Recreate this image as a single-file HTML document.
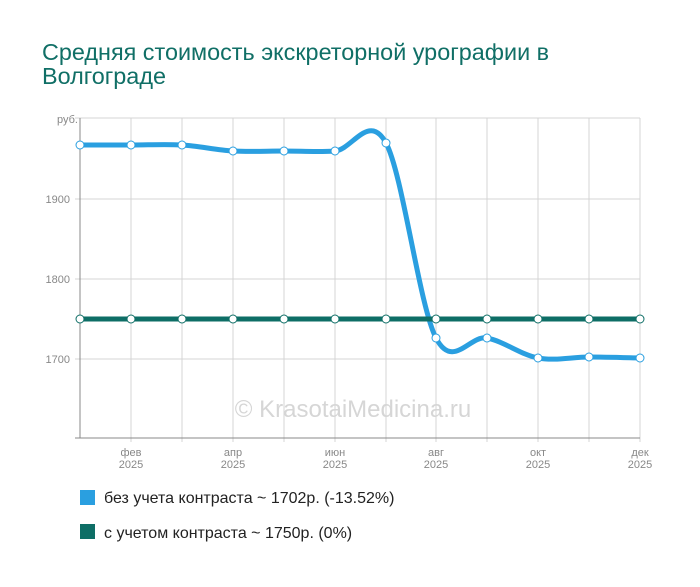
<!DOCTYPE html>
<html><head><meta charset="utf-8"><style>
body{margin:0;background:#fff;width:700px;height:582px;overflow:hidden;font-family:"Liberation Sans",sans-serif}
svg text{font-family:"Liberation Sans",sans-serif}
</style></head><body>
<svg id="s" width="700" height="582" xmlns="http://www.w3.org/2000/svg">
<text x="42" y="60" font-size="23.4" fill="#106f66">Средняя стоимость экскреторной урографии в</text>
<text x="42" y="84" font-size="23.4" fill="#106f66">Волгограде</text>
<g id="grid" stroke="#d4d4d4" stroke-width="1"></g>
<line x1="80" y1="118" x2="80" y2="438" stroke="#888"/>
<line x1="75" y1="438" x2="640" y2="438" stroke="#888"/>
<g font-size="11" fill="#888" text-anchor="end">
<text x="78" y="123">руб.</text>
<text x="70" y="203">1900</text>
<text x="70" y="283">1800</text>
<text x="70" y="363">1700</text>
</g>
<g font-size="11" fill="#888" text-anchor="middle">
<text x="131" y="456">фев</text><text x="131" y="468">2025</text>
<text x="233" y="456">апр</text><text x="233" y="468">2025</text>
<text x="335" y="456">июн</text><text x="335" y="468">2025</text>
<text x="436" y="456">авг</text><text x="436" y="468">2025</text>
<text x="538" y="456">окт</text><text x="538" y="468">2025</text>
<text x="640" y="456">дек</text><text x="640" y="468">2025</text>
</g>
<text x="353" y="417" font-size="24" fill="#d6d6d6" text-anchor="middle">© KrasotaiMedicina.ru</text>
<path id="blue" fill="none" stroke="#2a9fe0" stroke-width="5"/>
<line x1="80" y1="319" x2="640" y2="319" stroke="#0e6e66" stroke-width="5"/>
<g id="pts"></g>
<rect x="80" y="490" width="15" height="15" fill="#2a9fe0"/>
<text x="104" y="503" font-size="16" fill="#222">без учета контраста ~ 1702р. (-13.52%)</text>
<rect x="80" y="524" width="15" height="15" fill="#0e6e66"/>
<text x="104" y="538" font-size="16" fill="#222">с учетом контраста ~ 1750р. (0%)</text>
</svg>
<script>
var xs=[80,131,182,233,284,335,386,436,487,538,589,640];
var by=[145,145,145,151,151,151,143,338,338,358,357,358];
var g=document.getElementById('grid'),h='';
xs.forEach(function(x,i){if(i>0)h+='<line x1="'+x+'" y1="118" x2="'+x+'" y2="442"/>';});
[118,199,279,359].forEach(function(y){h+='<line x1="75" y1="'+y+'" x2="640" y2="'+y+'"/>';});
g.innerHTML=h;
var d='M'+xs[0]+','+by[0];
for(var i=0;i<xs.length-1;i++){
 var p0=i?i-1:i,p3=i+2<xs.length?i+2:i+1;
 var c1x=xs[i]+(xs[i+1]-xs[p0])/6,c1y=by[i]+(by[i+1]-by[p0])/6;
 var c2x=xs[i+1]-(xs[p3]-xs[i])/6,c2y=by[i+1]-(by[p3]-by[i])/6;
 d+=' C'+c1x+','+c1y+' '+c2x+','+c2y+' '+xs[i+1]+','+by[i+1];
}
document.getElementById('blue').setAttribute('d',d);
var p='';
xs.forEach(function(x,i){
 p+='<circle cx="'+x+'" cy="319" r="4" fill="#fff" stroke="#0e6e66" stroke-width="1"/>';
 p+='<circle cx="'+x+'" cy="'+by[i]+'" r="4" fill="#fff" stroke="#2a9fe0" stroke-width="1"/>';
});
document.getElementById('pts').innerHTML=p;
</script>
</body></html>
